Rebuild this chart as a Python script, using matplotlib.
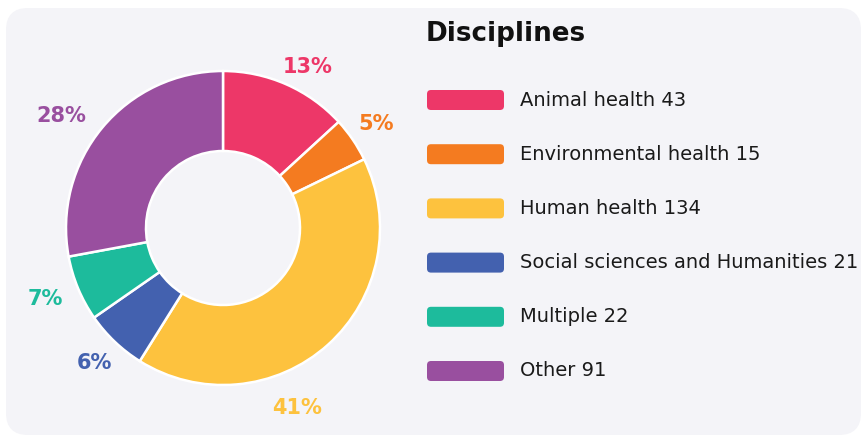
import matplotlib
matplotlib.use("Agg")
import numpy as np
import matplotlib.pyplot as plt
from matplotlib.patches import FancyBboxPatch

# Data
DISCIPLINES = ["Animal health", "Environmental health", "Human health",
               "Social sciences and Humanities", "Multiple", "Other"]
COUNTS = [43, 15, 134, 21, 22, 91]
COLORS = ["#ED3768", "#F47B20", "#FDC23E", "#4361AF", "#1DBB9C", "#994F9F"]
TITLE = "Disciplines"

# label placement tweaks: (angle nudge in degrees, distance / radius)
LABEL_NUDGE = [(-4, 1.16), (0, 1.18), (-19.5, 1.24), (0, 1.19), (-1, 1.22), (5, 1.25)]

W, H = 867, 441
plt.rcParams["font.family"] = ["DejaVu Sans"]


def main():
    fig = plt.figure(figsize=(W / 100, H / 100), dpi=100)
    fig.patch.set_facecolor("white")
    ax = fig.add_axes([0, 0, 1, 1])

    # light panel behind everything
    panel = FancyBboxPatch((6, 6), W - 12, H - 14,
                           boxstyle="round,pad=0,rounding_size=22",
                           facecolor="#F4F4F8", edgecolor="none", zorder=0)
    ax.add_patch(panel)

    cx, cy, r = 223, 213, 157
    wedges, _, pcts = ax.pie(
        COUNTS, colors=COLORS, startangle=90, counterclock=False,
        center=(cx, cy), radius=r, frame=True,
        autopct="%1.0f%%", pctdistance=1.16,
        wedgeprops=dict(width=80, edgecolor="white", linewidth=1.8),
    )
    for w, t, c, (da, dist) in zip(wedges, pcts, COLORS, LABEL_NUDGE):
        ang = np.deg2rad((w.theta1 + w.theta2) / 2 + da)
        t.set_position((cx + dist * r * np.cos(ang), cy + dist * r * np.sin(ang)))
        t.set_color(c)
        t.set_fontsize(15)
        t.set_fontweight("bold")
    ax.set_xlim(0, W)
    ax.set_ylim(0, H)
    ax.set_aspect("equal")
    ax.axis("off")

    # legend
    ax.text(426, H - 34, TITLE, fontsize=18.8, fontweight="bold",
            color="#111111", va="center", ha="left")
    for i, (name, n, c) in enumerate(zip(DISCIPLINES, COUNTS, COLORS)):
        y = H - (100 + i * 54.2)
        sw = FancyBboxPatch((427, y - 10), 77, 20,
                            boxstyle="round,pad=0,rounding_size=4",
                            facecolor=c, edgecolor="none", zorder=2)
        ax.add_patch(sw)
        ax.text(520, y, f"{name} {n}", fontsize=14, color="#1a1a1a",
                va="center", ha="left")

    fig.savefig("out.png", dpi=100)
    plt.close(fig)


if __name__ == "__main__":
    main()
